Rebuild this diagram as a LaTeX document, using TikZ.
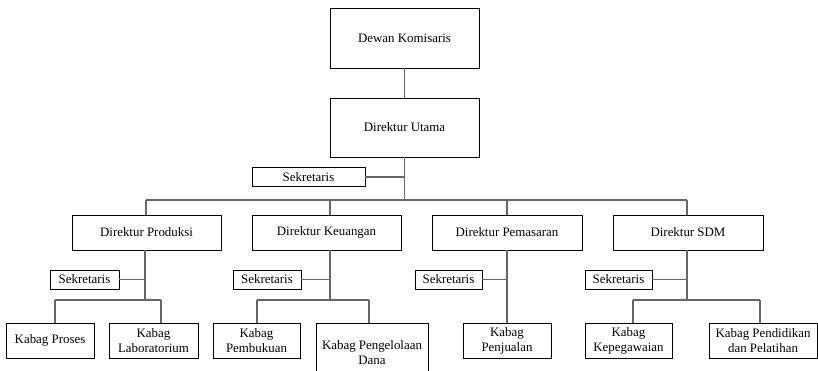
\documentclass[tikz,border=0pt]{standalone}
\usepackage{fontspec}
\setmainfont{Liberation Serif}
\begin{document}
\begin{tikzpicture}[x=1pt,y=-1pt,
  box/.style={draw=black, line width=0.7pt, fill=white, align=center, inner sep=1pt,
              font=\fontsize{12.9}{15}\selectfont},
  sz/.style 2 args={minimum width=#1pt, minimum height=#2pt},
  link/.style={draw=black!60, line width=1.1pt}]
\useasboundingbox (0,0) rectangle (818,371);

% top of the hierarchy
\node[box, sz={149}{60}] (dk) at (404.5,38) {Dewan Komisaris};
\node[box, sz={149}{59}] (du) at (404.5,127.5) {Direktur Utama};
\node[box, sz={113}{19}] (sek0) at (308.5,177) {Sekretaris};

% directors
\node[box, sz={149}{35}] (dp)  at (146.5,232.5) {Direktur Produksi};
\node[box, sz={149}{35}] (dke) at (326.5,232.5) {Direktur Keuangan};
\node[box, sz={150}{35}] (dpm) at (507,232.5)   {Direktur Pemasaran};
\node[box, sz={150}{35}] (ds)  at (688,232.5)   {Direktur SDM};

% secretaries of the directors
\node[box, sz={69}{19}] (sek1) at (84.5,279.5)  {Sekretaris};
\node[box, sz={68}{19}] (sek2) at (267,279.5)   {Sekretaris};
\node[box, sz={67}{19}] (sek3) at (448.5,279.5) {Sekretaris};
\node[box, sz={67}{19}] (sek4) at (618.5,279.5) {Sekretaris};

% heads of department
\node[box, sz={88}{35}]  (proses) at (50,340.5)    {Kabag Proses};
\node[box, sz={89}{35}]  (lab)    at (153.5,340.5) {Kabag\\Laboratorium};
\node[box, sz={87}{35}]  (buku)   at (256.5,340.5) {Kabag\\Pembukuan};
\node[box, sz={112}{59}] (dana)   at (372,352.5)   {Kabag Pengelolaan\\Dana};
\node[box, sz={88}{35}]  (jual)   at (507,340.5)   {Kabag\\Penjualan};
\node[box, sz={87}{35}]  (pegawai) at (628.5,340.5) {Kabag\\Kepegawaian};
\node[box, sz={108}{35}] (didik)  at (763,340.5)   {Kabag Pendidikan\\dan Pelatihan};

% junction points
\coordinate (hub)  at (404.5,200);
\coordinate (busL) at (146,200);
\coordinate (busR) at (687,200);
\coordinate (kJ)   at (330,200);
\coordinate (mJ)   at (507,200);

\coordinate (pJ) at (145,300);
\coordinate (pL) at (55,300);
\coordinate (pR) at (161,300);
\coordinate (qJ) at (330,300);
\coordinate (qL) at (257,300);
\coordinate (qR) at (369,300);
\coordinate (sJ) at (687,300);
\coordinate (sL) at (633,300);
\coordinate (sR) at (760,300);

% main trunk
\draw[link] (dk) -- (du);
\draw[link] (du) -- (hub);
\draw[link] (sek0) -- (sek0 -| hub);
\draw[link] (busL) -- (busR);
\draw[link] (busL) -- (dp.north -| busL);
\draw[link] (kJ) -- (dke.north -| kJ);
\draw[link] (mJ) -- (dpm.north -| mJ);
\draw[link] (busR) -- (ds.north -| busR);

% Produksi branch
\draw[link] (dp.south -| pJ) -- (pJ);
\draw[link] (sek1) -- (sek1 -| pJ);
\draw[link] (pL) -- (pR);
\draw[link] (pL) -- (pL |- proses.north);
\draw[link] (pR) -- (pR |- lab.north);

% Keuangan branch
\draw[link] (dke.south -| qJ) -- (qJ);
\draw[link] (sek2) -- (sek2 -| qJ);
\draw[link] (qL) -- (qR);
\draw[link] (qL) -- (qL |- buku.north);
\draw[link] (qR) -- (qR |- dana.north);

% Pemasaran branch
\draw[link] (dpm) -- (jual);
\draw[link] (sek3) -- (sek3 -| jual);

% SDM branch
\draw[link] (ds.south -| sJ) -- (sJ);
\draw[link] (sek4) -- (sek4 -| sJ);
\draw[link] (sL) -- (sR);
\draw[link] (sL) -- (sL |- pegawai.north);
\draw[link] (sR) -- (sR |- didik.north);
\end{tikzpicture}
\end{document}
